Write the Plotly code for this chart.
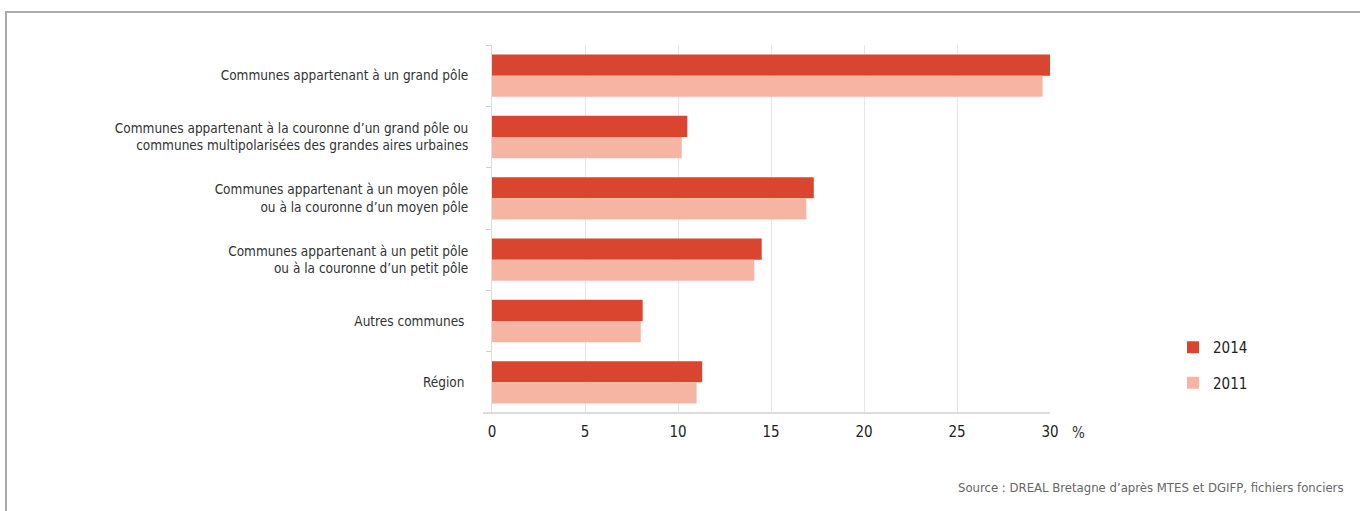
import plotly.graph_objects as go

categories = [
    "Communes appartenant à un grand pôle",
    "Communes appartenant à la couronne d’un grand pôle ou<br>communes multipolarisées des grandes aires urbaines",
    "Communes appartenant à un moyen pôle<br>ou à la couronne d’un moyen pôle",
    "Communes appartenant à un petit pôle<br>ou à la couronne d’un petit pôle",
    "Autres communes ",
    "Région ",
]
values_2014 = [30.0, 10.5, 17.3, 14.5, 8.1, 11.3]
values_2011 = [29.6, 10.2, 16.9, 14.1, 8.0, 11.0]
x_ticks = [0, 5, 10, 15, 20, 25, 30]

FONT = "DejaVu Sans Condensed, Liberation Sans, sans-serif"

L, T = 492, 45
PW, PH = 558, 368
W, H = 1360, 511
R = W - L - PW
B = H - T - PH


def px(x):
    return (x - L) / PW


def py(y):
    return (T + PH - y) / PH


fig = go.Figure()
fig.add_trace(go.Bar(y=categories, x=values_2014, name="2014", orientation="h",
                     legendgroup="a",
                     marker=dict(color="#d9452f", line=dict(width=0))))
fig.add_trace(go.Bar(y=categories, x=values_2011, name="2011", orientation="h",
                     legendgroup="b",
                     marker=dict(color="#f6b4a3", line=dict(width=0))))

fig.update_layout(
    width=W, height=H,
    margin=dict(l=L, r=R, t=T, b=B),
    paper_bgcolor="white", plot_bgcolor="white",
    barmode="group", bargap=0.31, bargroupgap=0,
    font=dict(family=FONT, size=13.5, color="#333"),
    showlegend=True,
    legend=dict(x=px(1173), y=py(365), xanchor="left", yanchor="middle",
                font=dict(family=FONT, size=15, color="#222"),
                traceorder="grouped", tracegroupgap=13,
                itemsizing="constant", bgcolor="rgba(0,0,0,0)"),
    xaxis=dict(range=[0, 30], tickvals=x_ticks, showgrid=True, gridcolor="#e6e6e6",
               gridwidth=1, zeroline=False, showline=False, ticks="",
               ticklabelstandoff=8,
               tickfont=dict(family=FONT, size=15, color="#222"), fixedrange=True),
    yaxis=dict(autorange="reversed", showline=True, linecolor="#dddddd", linewidth=1,
               ticks="outside", tickson="boundaries", ticklen=5, tickcolor="#cccccc",
               ticklabelstandoff=20, showgrid=False,
               tickfont=dict(family=FONT, size=13.5, color="#333")),
)

# bottom axis line extending slightly past zero
fig.add_shape(type="line", xref="paper", yref="paper", x0=px(483), x1=px(1050), y0=0, y1=0,
              line=dict(color="#d0d0d0", width=1.5))
# frame border
fig.add_shape(type="line", xref="paper", yref="paper",
              x0=px(5), x1=px(1365), y0=py(12), y1=py(12),
              line=dict(color="#aaaaaa", width=2))
fig.add_shape(type="line", xref="paper", yref="paper",
              x0=px(6), x1=px(6), y0=py(12), y1=py(530),
              line=dict(color="#aaaaaa", width=2))

fig.add_annotation(text="%", xref="paper", yref="paper", x=px(1078), y=py(433),
                   showarrow=False, xanchor="center", yanchor="middle",
                   font=dict(family=FONT, size=15, color="#333"))
fig.add_annotation(text="Source : DREAL Bretagne d’après MTES et DGIFP, fichiers fonciers",
                   xref="paper", yref="paper", x=px(1345), y=py(487),
                   showarrow=False, xanchor="right", yanchor="middle",
                   font=dict(family=FONT, size=13, color="#666"))

fig.write_html("out.html", config={"displayModeBar": False},
               post_script="document.body.style.margin='0';")
